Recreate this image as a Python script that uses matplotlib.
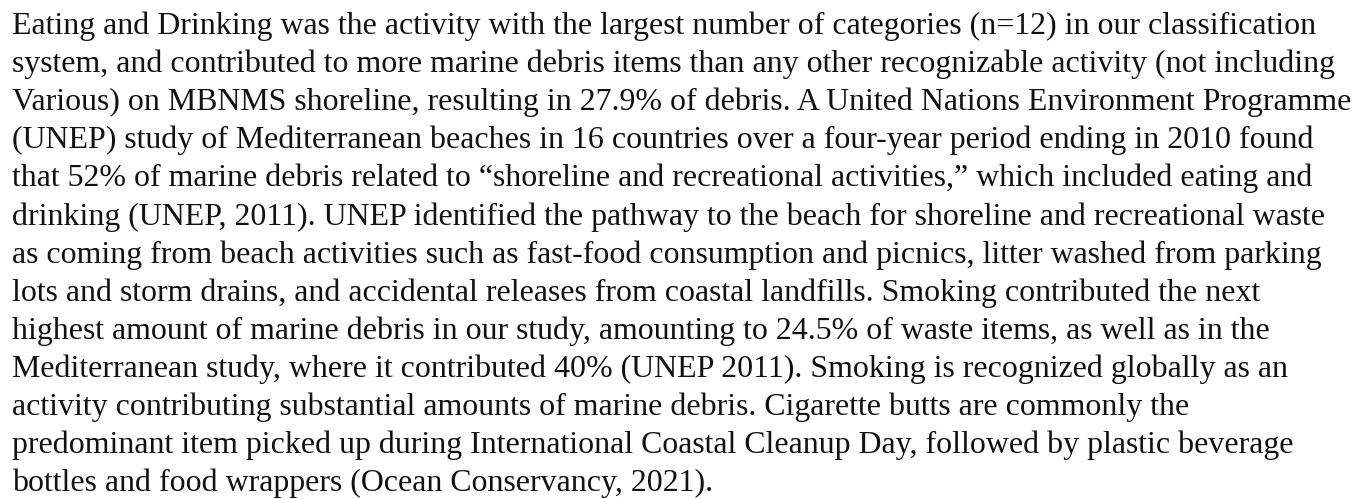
import matplotlib
matplotlib.use('Agg')
import matplotlib.pyplot as plt

# paragraph, broken into lines as in the reference
lines = [
    "Eating and Drinking was the activity with the largest number of categories (n=12) in our classification",
    "system, and contributed to more marine debris items than any other recognizable activity (not including",
    "Various) on MBNMS shoreline, resulting in 27.9% of debris. A United Nations Environment Programme",
    "(UNEP) study of Mediterranean beaches in 16 countries over a four-year period ending in 2010 found",
    "that 52% of marine debris related to \u201cshoreline and recreational activities,\u201d which included eating and",
    "drinking (UNEP, 2011). UNEP identified the pathway to the beach for shoreline and recreational waste",
    "as coming from beach activities such as fast-food consumption and picnics, litter washed from parking",
    "lots and storm drains, and accidental releases from coastal landfills. Smoking contributed the next",
    "highest amount of marine debris in our study, amounting to 24.5% of waste items, as well as in the",
    "Mediterranean study, where it contributed 40% (UNEP 2011). Smoking is recognized globally as an",
    "activity contributing substantial amounts of marine debris. Cigarette butts are commonly the",
    "predominant item picked up during International Coastal Cleanup Day, followed by plastic beverage",
    "bottles and food wrappers (Ocean Conservancy, 2021).",
]

W, H = 1364, 499
fig = plt.figure(figsize=(W/100, H/100), dpi=100)
fig.patch.set_facecolor('white')

font = 'Liberation Serif'
x0 = 12          # left margin, px
base0 = 34       # first baseline, px from top
step = 38.1      # line spacing, px
target = 1306    # width of the first line, px

# fit the font size to the width of the first line
probe = fig.text(0, 0, lines[0], fontsize=20, family=font)
r = fig.canvas.get_renderer()
w = probe.get_window_extent(r).width
probe.remove()
fs = 20*target/w

for i, s in enumerate(lines):
    y = base0 + i*step
    fig.text(x0/W, 1 - y/H, s, fontsize=fs, family=font, color='#111111',
             ha='left', va='baseline')

fig.savefig('out.png', dpi=100, facecolor='white')
